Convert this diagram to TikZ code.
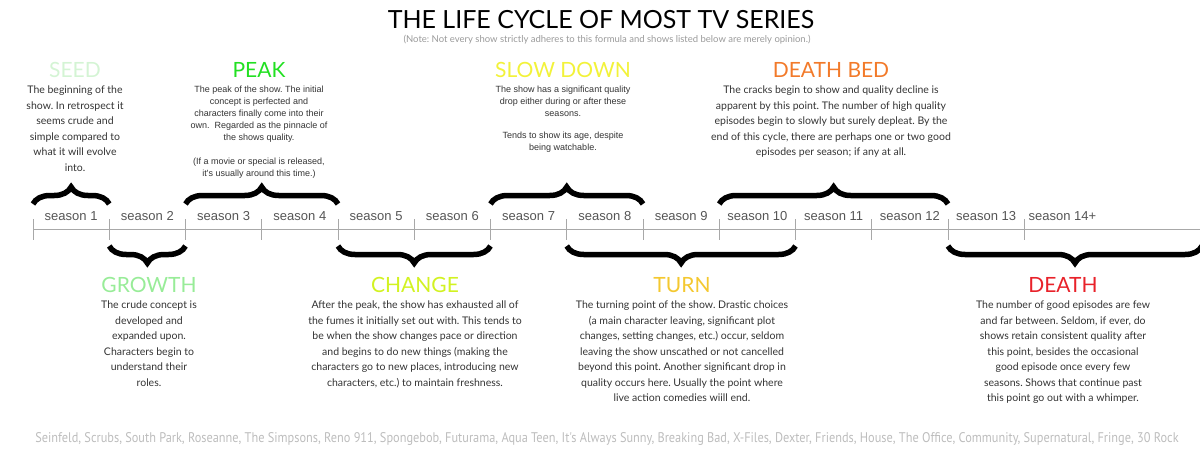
\documentclass[tikz,border=0pt]{standalone}
\usepackage{fontspec}
\setmainfont{Lato}
\newfontfamily\arialfont{Liberation Sans}
\newfontfamily\seasonfont{Liberation Sans}
\newfontfamily\footfont[FakeStretch=0.88]{PT Sans}
\usetikzlibrary{positioning,calc,decorations.pathreplacing}
\frenchspacing

\definecolor{seedcol}{HTML}{D4F4D4}
\definecolor{peakcol}{HTML}{22E022}
\definecolor{slowcol}{HTML}{F2F23A}
\definecolor{bedcol}{HTML}{F27A2A}
\definecolor{growcol}{HTML}{98EC98}
\definecolor{changecol}{HTML}{D2F222}
\definecolor{turncol}{HTML}{F4C830}
\definecolor{deathcol}{HTML}{E8222A}
\definecolor{bodytext}{HTML}{333333}
\definecolor{notegray}{HTML}{9A9A9A}
\definecolor{footgray}{HTML}{BDBDBD}
\definecolor{tickgray}{HTML}{A8A8A8}
\definecolor{seasongray}{HTML}{555555}

\begin{document}
\begin{tikzpicture}
[x=1pt,y=-1pt,
 head/.style={inner sep=0pt, font=\fontsize{21}{24}\selectfont},
 body/.style={align=center, inner sep=0pt, text=bodytext, font=\fontsize{10.5}{#1}\selectfont},
 arialbody/.style={align=center, inner sep=0pt, text=bodytext, font=\arialfont\fontsize{9}{12}\selectfont},
 season/.style={inner sep=0pt, text=seasongray, font=\seasonfont\fontsize{13}{15}\selectfont},
 tick/.style={draw=tickgray, line width=0.6pt},
 bracetop/.style={decorate, decoration={brace, amplitude=17pt}, line width=5.5pt},
 bracebot/.style={decorate, decoration={brace, amplitude=17pt, mirror}, line width=5.5pt}]
\useasboundingbox (0,0) rectangle (1200,450);

% title
\node [inner sep=0pt, font=\fontsize{25}{30}\selectfont] (title) at (601,20) {THE LIFE CYCLE OF MOST TV SERIES};
\node [inner sep=0pt, text=notegray, font=\fontsize{9.5}{11}\selectfont] (note) at (607,40) {(Note: Not every show strictly adheres to this formula and shows listed below are merely opinion.)};

% timeline
\foreach \i in {0,...,14} \coordinate (t\i) at ({33+76.25*\i},229);
\coordinate (tend) at (1202,229);
\draw [tick] (t0) -- (tend);
\foreach \i in {0,...,13} \draw [tick] ([yshift=10pt]t\i) -- ([yshift=-11pt]t\i);
\foreach \i [count=\n] in {0,...,12}
  \node [season, yshift=13pt] (s\n) at ($(t\i)!0.5!(t\n)$) {season \n};
\node [season, yshift=13pt] (s14) at ($(t13)!0.5!(t14)$) {season 14+};

% braces above
\draw [bracetop] ([yshift=25pt]t0) -- ([yshift=25pt]t1);
\draw [bracetop] ([yshift=25pt]t2) -- ([yshift=25pt]t4);
\draw [bracetop] ([yshift=25pt]t6) -- ([yshift=25pt]t8);
\draw [bracetop] ([yshift=25pt]t9) -- ([yshift=25pt]t12);

% braces below
\draw [bracebot] ([yshift=-17pt]t1) -- ([yshift=-17pt]t2);
\draw [bracebot] ([yshift=-17pt]t4) -- ([yshift=-17pt]t6);
\draw [bracebot] ([yshift=-17pt]t7) -- ([yshift=-17pt]t10);
\draw [bracebot] ([yshift=-17pt]t12) -- ([yshift=-17pt]tend);

% stages above
\node [head, text=seedcol] (seed) at (75,70) {SEED};
\node [body=15.5, below=8pt of seed] (seedtxt) {The beginning of the\\ show. In retrospect it\\ seems crude and\\ simple compared to\\ what it will evolve\\ into.};

\node [head, text=peakcol] (peak) at (259,70) {PEAK};
\node [arialbody, below=8pt of peak] (peaktxt) {The peak of the show. The initial\\ concept is perfected and\\ characters finally come into their\\ own.\ \ Regarded as the pinnacle of\\ the shows quality.\\[12pt] (If a movie or special is released,\\ it's usually around this time.)};

\node [head, text=slowcol] (slow) at (563,70) {SLOW DOWN};
\node [arialbody, below=8pt of slow] (slowtxt) {The show has a significant quality\\ drop either during or after these\\ seasons.\\[10pt] Tends to show its age, despite\\ being watchable.};

\node [head, text=bedcol] (bed) at (831,70) {DEATH BED};
\node [body=15.5, below=8pt of bed] (bedtxt) {The cracks begin to show and quality decline is\\ apparent by this point. The number of high quality\\ episodes begin to slowly but surely depleat. By the\\ end of this cycle, there are perhaps one or two good\\ episodes per season; if any at all.};

% stages below
\node [head, text=growcol] (growth) at (149,285) {GROWTH};
\node [body=15.5, below=8pt of growth] (growtxt) {The crude concept is\\ developed and\\ expanded upon.\\ Characters begin to\\ understand their\\ roles.};

\node [head, text=changecol] (change) at (415,285) {CHANGE};
\node [body=15.5, below=8pt of change] (changetxt) {After the peak, the show has exhausted all of\\ the fumes it initially set out with. This tends to\\ be when the show changes pace or direction\\ and begins to do new things (making the\\ characters go to new places, introducing new\\ characters, etc.) to maintain freshness.};

\node [head, text=turncol] (turn) at (682,285) {TURN};
\node [body=15.5, below=8pt of turn] (turntxt) {The turning point of the show. Drastic choices\\ (a main character leaving, significant plot\\ changes, setting changes, etc.) occur, seldom\\ leaving the show unscathed or not cancelled\\ beyond this point. Another significant drop in\\ quality occurs here. Usually the point where\\ live action comedies wiill end.};

\node [head, text=deathcol] (death) at (1063,285) {DEATH};
\node [body=15.5, below=8pt of death] (deathtxt) {The number of good episodes are few\\ and far between. Seldom, if ever, do\\ shows retain consistent quality after\\ this point, besides the occasional\\ good episode once every few\\ seasons. Shows that continue past\\ this point go out with a whimper.};

% shows
\node [inner sep=0pt, text=footgray, font=\footfont\fontsize{14}{16}\selectfont] (shows) at (607,439) {Seinfeld, Scrubs, South Park, Roseanne, The Simpsons, Reno 911, Spongebob, Futurama, Aqua Teen, It's Always Sunny, Breaking Bad, X-Files, Dexter, Friends, House, The Office, Community, Supernatural, Fringe, 30 Rock};

\end{tikzpicture}
\end{document}
